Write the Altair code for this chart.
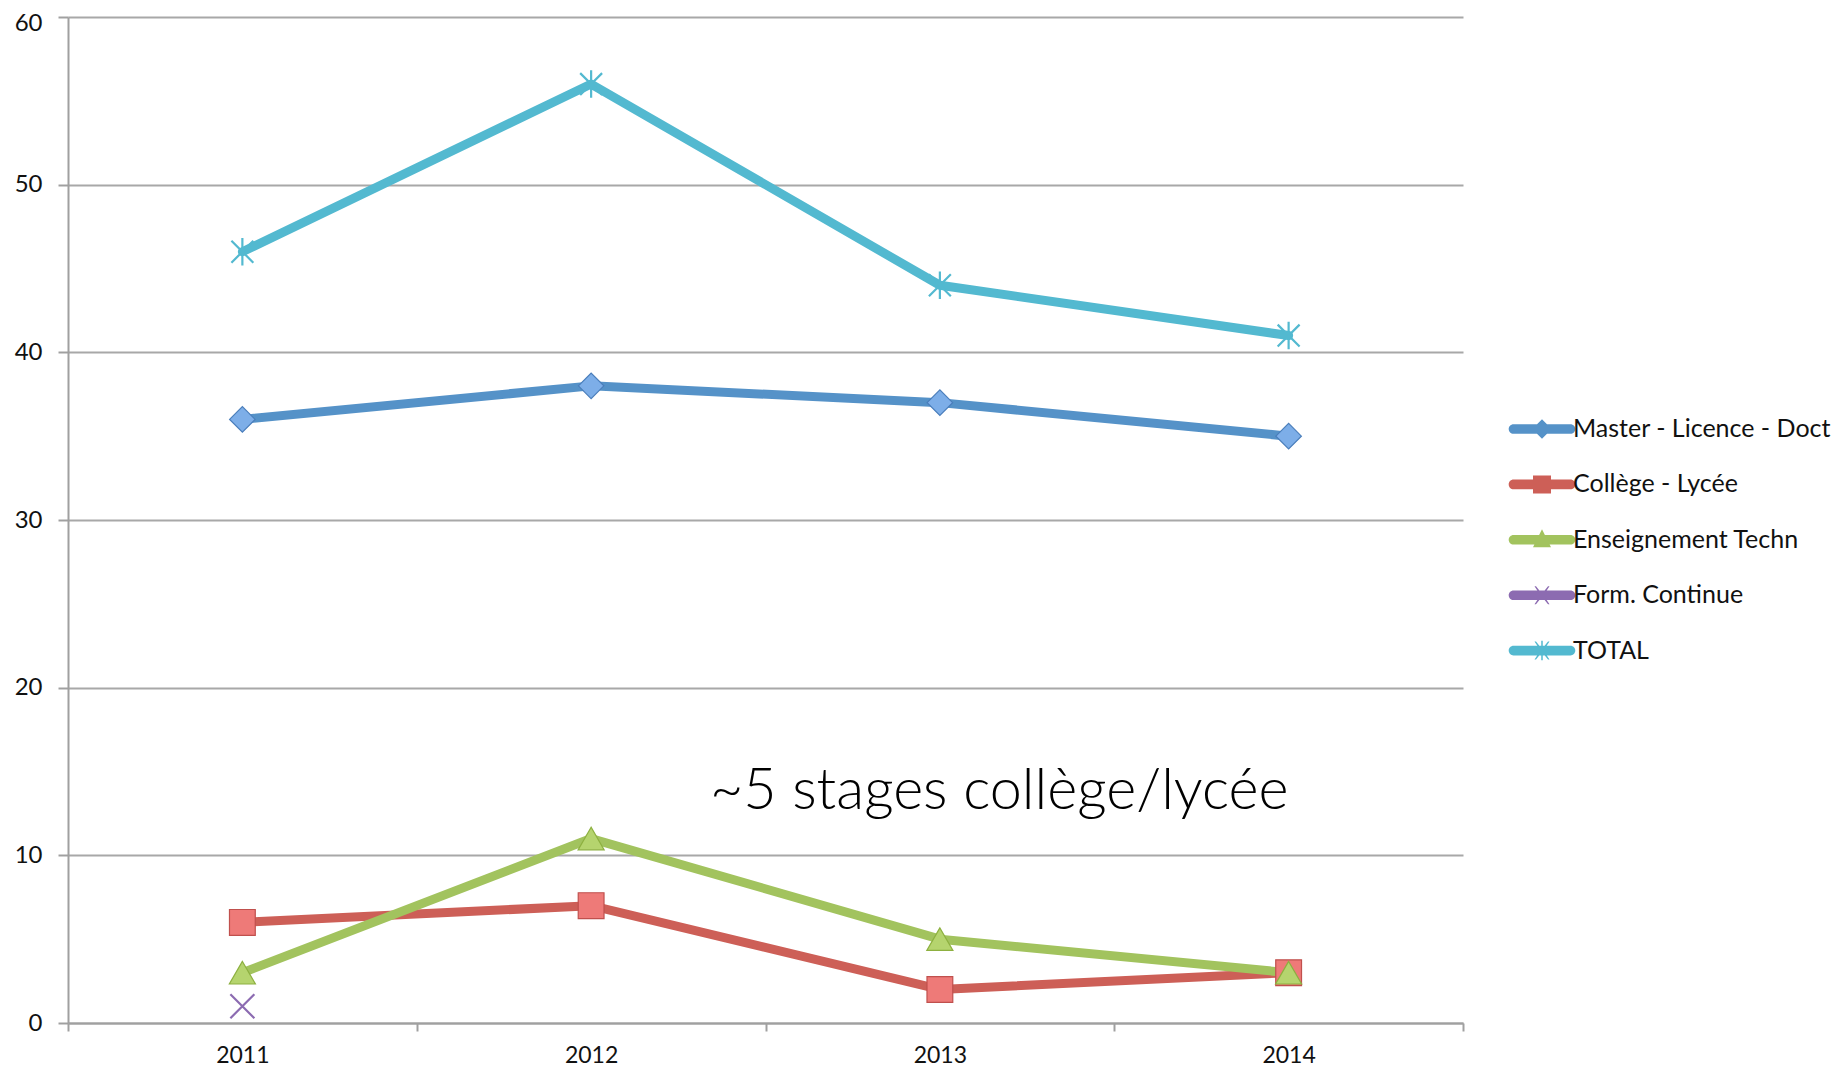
import altair as alt
import pandas as pd

years = ["2011", "2012", "2013", "2014"]
series_names = ["Master - Licence - Doct", "Collège - Lycée", "Enseignement Techn", "Form. Continue", "TOTAL"]
master = [36, 38, 37, 35]
college = [6, 7, 2, 3]
techn = [3, 11, 5, 3]
form_continue = [1, None, None, None]
total = [46, 56, 44, 41]
y_ticks = [0, 10, 20, 30, 40, 50, 60]
annotation = "~5 stages collège/lycée"
annotation_year = "2013"
annotation_value = 14

line_colors = ["#5592C8", "#CD5F57", "#A2C35E", "#8C6BB1", "#53B9D0"]
fill_colors = ["#7DAEE8", "#EE7A78", "#B5D46E", "#9D7CC0", "#53B9D0"]
stroke_colors = ["#4A7EBB", "#C0504D", "#8DB040", "#8C6BB1", "#53B9D0"]

values = [master, college, techn, form_continue, total]
rows = []
for name, vals in zip(series_names, values):
    for yr, v in zip(years, vals):
        if v is not None:
            rows.append({"annee": yr, "serie": name, "valeur": v})
df = pd.DataFrame(rows)

DIAMOND = "diamond"
SQUARE = "square"
TRIANGLE = "triangle-up"
XPATH = "M-0.8,-0.8L0.8,0.8M-0.8,0.8L0.8,-0.8"
ASTER = "M-0.8,-0.8L0.8,0.8M-0.8,0.8L0.8,-0.8M0,-1L0,1"

x_enc = alt.X("annee:N", sort=years, title=None,
              scale=alt.Scale(type="band", paddingInner=0, paddingOuter=0),
              axis=alt.Axis(tickBand="extent", labelAngle=0, tickSize=8, labelPadding=13,
                            labelFontSize=23, labelFont="Lato", labelColor="#111111",
                            domainColor="#A0A0A0", domainWidth=2, tickColor="#A0A0A0",
                            tickWidth=2, grid=False))
y_enc = alt.Y("valeur:Q", title=None,
              scale=alt.Scale(domain=[0, 60], nice=False),
              axis=alt.Axis(values=y_ticks, tickSize=10, labelPadding=16, labelFontSize=24,
                            labelFont="Lato", labelColor="#111111", domainColor="#A0A0A0",
                            domainWidth=2, tickColor="#A0A0A0", tickWidth=2,
                            labelOffset=alt.ExprRef("datum.value == 60 ? 6 : 0"),
                            grid=True, gridColor="#A8A8A8", gridWidth=2))

color_scale = alt.Scale(domain=series_names, range=line_colors)

line_df = df[df["serie"] != series_names[3]]
lines = alt.Chart(line_df).mark_line(strokeWidth=9, strokeCap="round", strokeJoin="round").encode(
    x=x_enc, y=y_enc,
    color=alt.Color("serie:N", scale=color_scale, legend=None),
    detail="serie:N",
)

filled_df = df[df["serie"].isin(series_names[:3])]
filled_pts = alt.Chart(filled_df).mark_point(filled=True, opacity=1, strokeWidth=1.2).encode(
    x=x_enc, y=y_enc,
    shape=alt.Shape("serie:N", scale=alt.Scale(domain=series_names[:3], range=[DIAMOND, SQUARE, TRIANGLE]), legend=None),
    fill=alt.Fill("serie:N", scale=alt.Scale(domain=series_names[:3], range=fill_colors[:3]), legend=None),
    stroke=alt.Stroke("serie:N", scale=alt.Scale(domain=series_names[:3], range=stroke_colors[:3]), legend=None),
    size=alt.Size("serie:N", scale=alt.Scale(domain=series_names[:3], range=[650, 680, 720]), legend=None),
)

open_df = df[df["serie"].isin(series_names[3:])]
open_pts = alt.Chart(open_df).mark_point(filled=False, opacity=1, strokeWidth=2.2).encode(
    x=x_enc, y=y_enc,
    shape=alt.Shape("serie:N", scale=alt.Scale(domain=series_names[3:], range=[XPATH, ASTER]), legend=None),
    stroke=alt.Stroke("serie:N", scale=alt.Scale(domain=series_names[3:], range=stroke_colors[3:]), legend=None),
    size=alt.Size("serie:N", scale=alt.Scale(domain=series_names[3:], range=[900, 750]), legend=None),
)

# legend symbols: thick line + marker, as custom paths
bar = "M-1.9,-0.32L1.9,-0.32A0.32,0.32 0 0 1 1.9,0.32L-1.9,0.32A0.32,0.32 0 0 1 -1.9,-0.32Z"
leg_paths = [
    bar + "M0,-0.65L0.65,0L0,0.65L-0.65,0Z",
    bar + "M-0.6,-0.6L0.6,-0.6L0.6,0.6L-0.6,0.6Z",
    bar + "M0,-0.7L0.6,0.5L-0.6,0.5Z",
    bar + "M-0.5,-0.6L-0.4,-0.6L0,-0.1L0.4,-0.6L0.5,-0.6L0.1,0L0.5,0.6L0.4,0.6L0,0.1L-0.4,0.6L-0.5,0.6L-0.1,0Z",
    bar + "M-0.5,-0.6L-0.4,-0.6L0,-0.1L0.4,-0.6L0.5,-0.6L0.1,0L0.5,0.6L0.4,0.6L0,0.1L-0.4,0.6L-0.5,0.6L-0.1,0Z"
        + "M-0.05,-0.65L0.05,-0.65L0.05,0.65L-0.05,0.65Z",
]
leg_df = pd.DataFrame({"annee": years[0], "valeur": 0, "legende": series_names})
legend_layer = alt.Chart(leg_df).mark_point(filled=True, opacity=0).encode(
    x=x_enc, y=y_enc,
    shape=alt.Shape("legende:N", scale=alt.Scale(domain=series_names, range=leg_paths),
                    legend=alt.Legend(title=None)),
    color=alt.Color("legende:N", scale=alt.Scale(domain=series_names, range=line_colors),
                    legend=alt.Legend(title=None)),
)

ann_df = pd.DataFrame({"annee": [annotation_year], "valeur": [annotation_value], "txt": [annotation]})
ann = alt.Chart(ann_df).mark_text(align="left", baseline="middle", dx=-230, dy=4, fontSize=57.5,
                                  font="Lato", fontWeight=300, color="#000000").encode(
    x=x_enc, y=y_enc, text="txt:N")

chart = alt.layer(lines, filled_pts, open_pts, ann, legend_layer).resolve_scale(
    shape="independent", color="independent", fill="independent", stroke="independent", size="independent"
).properties(
    width=1395, height=1006,
    padding={"left": 60, "top": 9, "right": 370, "bottom": 43},
    autosize=alt.AutoSizeParams(type="none"),
).configure_view(stroke=None).configure_legend(
    orient="none", legendX=1459, legendY=397, padding=0,
    symbolSize=900, symbolOpacity=1, symbolStrokeWidth=0, labelOffset=16,
    rowPadding=27.4, labelFont="Lato", labelFontSize=25, labelColor="#111111", labelLimit=400,
).configure_axis(labelFont="Lato")

chart.save("out.html", embed_options={"renderer": "svg", "actions": False})
